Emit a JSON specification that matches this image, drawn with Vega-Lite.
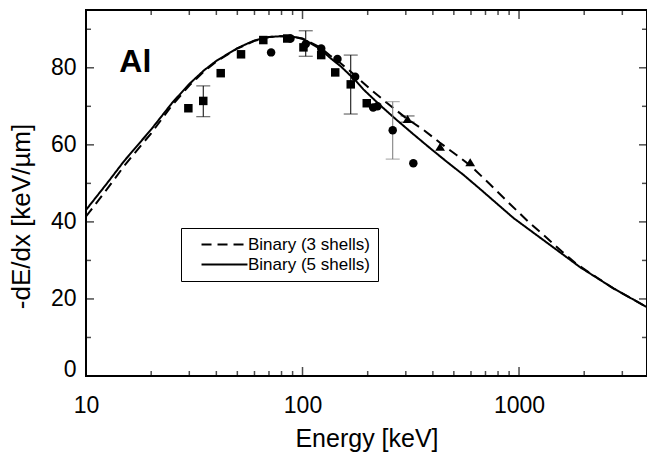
{
  "$schema": "https://vega.github.io/schema/vega-lite/v6.json",
  "width": 561,
  "height": 366,
  "autosize": {"type": "none"},
  "padding": {"left": 86, "top": 10, "right": 0, "bottom": 78},
  "config": {
    "font": "Liberation Sans",
    "view": {"stroke": "black", "strokeWidth": 2},
    "axis": {
      "domain": false,
      "grid": false,
      "labelColor": "black",
      "titleColor": "black",
      "labelFont": "Liberation Sans",
      "titleFont": "Liberation Sans",
      "labelFontSize": 23,
      "titleFontSize": 25,
      "titleFontWeight": "normal",
      "labelOverlap": false
    }
  },
  "datasets": {
    "curves": [
      {"E": 10, "v": 43.1, "s": "Binary (5 shells)"},
      {"E": 12.5, "v": 50.0, "s": "Binary (5 shells)"},
      {"E": 15, "v": 55.8, "s": "Binary (5 shells)"},
      {"E": 17.5, "v": 60.2, "s": "Binary (5 shells)"},
      {"E": 20, "v": 64.0, "s": "Binary (5 shells)"},
      {"E": 25, "v": 70.9, "s": "Binary (5 shells)"},
      {"E": 30, "v": 75.8, "s": "Binary (5 shells)"},
      {"E": 35, "v": 79.3, "s": "Binary (5 shells)"},
      {"E": 40, "v": 81.8, "s": "Binary (5 shells)"},
      {"E": 50, "v": 85.1, "s": "Binary (5 shells)"},
      {"E": 60, "v": 87.1, "s": "Binary (5 shells)"},
      {"E": 70, "v": 88.0, "s": "Binary (5 shells)"},
      {"E": 80, "v": 88.2, "s": "Binary (5 shells)"},
      {"E": 90, "v": 88.1, "s": "Binary (5 shells)"},
      {"E": 100, "v": 87.5, "s": "Binary (5 shells)"},
      {"E": 120, "v": 85.0, "s": "Binary (5 shells)"},
      {"E": 134, "v": 82.6, "s": "Binary (5 shells)"},
      {"E": 150, "v": 80.4, "s": "Binary (5 shells)"},
      {"E": 160, "v": 78.9, "s": "Binary (5 shells)"},
      {"E": 175, "v": 76.8, "s": "Binary (5 shells)"},
      {"E": 191, "v": 74.4, "s": "Binary (5 shells)"},
      {"E": 228, "v": 70.3, "s": "Binary (5 shells)"},
      {"E": 273, "v": 66.4, "s": "Binary (5 shells)"},
      {"E": 326, "v": 62.7, "s": "Binary (5 shells)"},
      {"E": 389, "v": 59.1, "s": "Binary (5 shells)"},
      {"E": 464, "v": 55.6, "s": "Binary (5 shells)"},
      {"E": 554, "v": 52.2, "s": "Binary (5 shells)"},
      {"E": 662, "v": 48.5, "s": "Binary (5 shells)"},
      {"E": 943, "v": 41.0, "s": "Binary (5 shells)"},
      {"E": 1346, "v": 34.6, "s": "Binary (5 shells)"},
      {"E": 1919, "v": 28.2, "s": "Binary (5 shells)"},
      {"E": 2737, "v": 22.7, "s": "Binary (5 shells)"},
      {"E": 3859, "v": 18.0, "s": "Binary (5 shells)"},
      {"E": 3900, "v": 17.9, "s": "Binary (5 shells)"},
      {"E": 10, "v": 41.4, "s": "Binary (3 shells)"},
      {"E": 12.5, "v": 48.5, "s": "Binary (3 shells)"},
      {"E": 15, "v": 54.5, "s": "Binary (3 shells)"},
      {"E": 17.5, "v": 59.1, "s": "Binary (3 shells)"},
      {"E": 20, "v": 63.0, "s": "Binary (3 shells)"},
      {"E": 25, "v": 70.3, "s": "Binary (3 shells)"},
      {"E": 30, "v": 75.4, "s": "Binary (3 shells)"},
      {"E": 35, "v": 79.0, "s": "Binary (3 shells)"},
      {"E": 40, "v": 81.6, "s": "Binary (3 shells)"},
      {"E": 50, "v": 85.0, "s": "Binary (3 shells)"},
      {"E": 60, "v": 87.0, "s": "Binary (3 shells)"},
      {"E": 70, "v": 88.0, "s": "Binary (3 shells)"},
      {"E": 80, "v": 88.2, "s": "Binary (3 shells)"},
      {"E": 90, "v": 88.1, "s": "Binary (3 shells)"},
      {"E": 100, "v": 87.6, "s": "Binary (3 shells)"},
      {"E": 120, "v": 85.4, "s": "Binary (3 shells)"},
      {"E": 134, "v": 83.2, "s": "Binary (3 shells)"},
      {"E": 150, "v": 81.2, "s": "Binary (3 shells)"},
      {"E": 175, "v": 78.0, "s": "Binary (3 shells)"},
      {"E": 205, "v": 74.5, "s": "Binary (3 shells)"},
      {"E": 249, "v": 70.6, "s": "Binary (3 shells)"},
      {"E": 300, "v": 67.0, "s": "Binary (3 shells)"},
      {"E": 362, "v": 63.9, "s": "Binary (3 shells)"},
      {"E": 430, "v": 60.6, "s": "Binary (3 shells)"},
      {"E": 516, "v": 57.3, "s": "Binary (3 shells)"},
      {"E": 600, "v": 54.5, "s": "Binary (3 shells)"},
      {"E": 736, "v": 49.7, "s": "Binary (3 shells)"},
      {"E": 910, "v": 44.6, "s": "Binary (3 shells)"},
      {"E": 1106, "v": 40.0, "s": "Binary (3 shells)"},
      {"E": 1322, "v": 36.2, "s": "Binary (3 shells)"},
      {"E": 1578, "v": 32.3, "s": "Binary (3 shells)"},
      {"E": 1852, "v": 29.0, "s": "Binary (3 shells)"},
      {"E": 2200, "v": 26.2, "s": "Binary (3 shells)"},
      {"E": 2737, "v": 22.7, "s": "Binary (3 shells)"},
      {"E": 3859, "v": 18.0, "s": "Binary (3 shells)"},
      {"E": 3900, "v": 17.9, "s": "Binary (3 shells)"}
    ],
    "points": [
      {"E": 29.7, "v": 69.5, "m": "square"},
      {"E": 34.8, "v": 71.4, "m": "square"},
      {"E": 41.9, "v": 78.6, "m": "square"},
      {"E": 52, "v": 83.5, "m": "square"},
      {"E": 65.9, "v": 87.2, "m": "square"},
      {"E": 85, "v": 87.6, "m": "square"},
      {"E": 101, "v": 85.3, "m": "square"},
      {"E": 122, "v": 83.3, "m": "square"},
      {"E": 141.6, "v": 78.8, "m": "square"},
      {"E": 167, "v": 75.7, "m": "square"},
      {"E": 198, "v": 70.8, "m": "square"},
      {"E": 71.6, "v": 84.0, "m": "circle"},
      {"E": 88, "v": 87.6, "m": "circle"},
      {"E": 103.5, "v": 86.2, "m": "circle"},
      {"E": 122, "v": 85.0, "m": "circle"},
      {"E": 145, "v": 82.3, "m": "circle"},
      {"E": 175, "v": 77.7, "m": "circle"},
      {"E": 212, "v": 69.7, "m": "circle"},
      {"E": 222, "v": 70.0, "m": "circle"},
      {"E": 261, "v": 63.8, "m": "circle"},
      {"E": 325, "v": 55.2, "m": "circle"},
      {"E": 305.6, "v": 66.7, "m": "triangle"},
      {"E": 432, "v": 59.5, "m": "triangle"},
      {"E": 595, "v": 55.5, "m": "triangle"}
    ],
    "errors": [
      {"E": 34.8, "lo": 67.3, "hi": 75.3, "g": "a"},
      {"E": 103.5, "lo": 83.0, "hi": 89.6, "g": "a"},
      {"E": 167, "lo": 68.0, "hi": 83.3, "g": "a"},
      {"E": 261, "lo": 56.3, "hi": 71.2, "g": "b"},
      {"E": 305.6, "lo": 65.9, "hi": 67.5, "g": "a"}
    ],
    "labels": [
      {"E": 14.26, "v": 79.0, "t": "Al"}
    ],
    "xticks": [
      {"E": 10, "k": "major"}, {"E": 20, "k": "minor"}, {"E": 30, "k": "minor"}, {"E": 40, "k": "minor"},
      {"E": 50, "k": "minor"}, {"E": 60, "k": "minor"}, {"E": 70, "k": "minor"}, {"E": 80, "k": "minor"},
      {"E": 90, "k": "minor"}, {"E": 100, "k": "major"}, {"E": 200, "k": "minor"}, {"E": 300, "k": "minor"},
      {"E": 400, "k": "minor"}, {"E": 500, "k": "minor"}, {"E": 600, "k": "minor"}, {"E": 700, "k": "minor"},
      {"E": 800, "k": "minor"}, {"E": 900, "k": "minor"}, {"E": 1000, "k": "major"}, {"E": 2000, "k": "minor"},
      {"E": 3000, "k": "minor"}
    ],
    "yticks": [
      {"v": 0, "k": "major"}, {"v": 10, "k": "minor"}, {"v": 20, "k": "major"}, {"v": 30, "k": "minor"},
      {"v": 40, "k": "major"}, {"v": 50, "k": "minor"}, {"v": 60, "k": "major"}, {"v": 70, "k": "minor"},
      {"v": 80, "k": "major"}, {"v": 90, "k": "minor"}
    ]
  },
  "resolve": {"axis": {"x": "independent", "y": "independent"}},
  "layer": [
    {
      "data": {"name": "curves"},
      "mark": {"type": "line", "color": "black", "strokeWidth": 2},
      "encoding": {
        "x": {
          "field": "E", "type": "quantitative",
          "scale": {"type": "log", "domain": [10, 3900], "nice": false},
          "axis": {
            "orient": "bottom",
            "values": [10, 100, 1000],
            "format": "d",
            "labelFlush": false,
            "ticks": false,
            "labelPadding": 18,
            "title": "Energy [keV]",
            "titleY": 70,
            "titleBaseline": "alphabetic"
          }
        },
        "y": {
          "field": "v", "type": "quantitative",
          "scale": {"domain": [0, 95], "nice": false, "zero": true},
          "axis": {
            "orient": "left",
            "values": [0, 20, 40, 60, 80],
            "ticks": false,
            "labelPadding": 10,
            "labelFlush": false,
            "labelBaseline": {"condition": {"test": "datum.value == 0", "value": "alphabetic"}, "value": "middle"},
            "title": "-dE/dx [keV/µm]",
            "titleFontSize": 26,
            "titleX": -57,
            "titleY": 206,
            "titleAngle": 270,
            "titleAlign": "center",
            "titleBaseline": "alphabetic"
          }
        },
        "strokeDash": {
          "field": "s", "type": "nominal",
          "scale": {"domain": ["Binary (3 shells)", "Binary (5 shells)"], "range": [[10, 6], [1, 0]]},
          "legend": {
            "orient": "none",
            "legendX": 95,
            "legendY": 218,
            "title": null,
            "strokeColor": "black",
            "padding": 8,
            "rowPadding": 2,
            "labelFontSize": 17,
            "labelFont": "Liberation Sans",
            "labelColor": "black",
            "symbolType": "M-4,0H4",
            "symbolSize": 132,
            "symbolStrokeWidth": 2,
            "symbolStrokeColor": "black",
            "symbolOffset": 27,
            "labelOffset": 15,
            "labelExpr": "datum.label + '    '"
          }
        },
        "detail": {"field": "s"}
      }
    },
    {
      "data": {"name": "xticks"},
      "transform": [{"filter": "datum.k == 'major'"}],
      "mark": {"type": "tick", "orient": "vertical", "thickness": 1.5, "size": 18, "color": "black", "clip": true},
      "encoding": {
        "x": {"field": "E", "type": "quantitative", "scale": {"type": "log", "domain": [10, 3900], "nice": false}, "axis": null},
        "y": {"datum": 0, "type": "quantitative", "scale": {"domain": [0, 95], "nice": false}, "axis": null}
      }
    },
    {
      "data": {"name": "xticks"},
      "transform": [{"filter": "datum.k == 'minor'"}],
      "mark": {"type": "tick", "orient": "vertical", "thickness": 1.5, "size": 10, "color": "black", "clip": true},
      "encoding": {
        "x": {"field": "E", "type": "quantitative", "scale": {"type": "log", "domain": [10, 3900], "nice": false}, "axis": null},
        "y": {"datum": 0, "type": "quantitative", "scale": {"domain": [0, 95], "nice": false}, "axis": null}
      }
    },
    {
      "data": {"name": "xticks"},
      "transform": [{"filter": "datum.k == 'major'"}],
      "mark": {"type": "tick", "orient": "vertical", "thickness": 1.5, "size": 18, "color": "black", "clip": true},
      "encoding": {
        "x": {"field": "E", "type": "quantitative", "scale": {"type": "log", "domain": [10, 3900], "nice": false}, "axis": null},
        "y": {"datum": 95, "type": "quantitative", "scale": {"domain": [0, 95], "nice": false}, "axis": null}
      }
    },
    {
      "data": {"name": "xticks"},
      "transform": [{"filter": "datum.k == 'minor'"}],
      "mark": {"type": "tick", "orient": "vertical", "thickness": 1.5, "size": 10, "color": "black", "clip": true},
      "encoding": {
        "x": {"field": "E", "type": "quantitative", "scale": {"type": "log", "domain": [10, 3900], "nice": false}, "axis": null},
        "y": {"datum": 95, "type": "quantitative", "scale": {"domain": [0, 95], "nice": false}, "axis": null}
      }
    },
    {
      "data": {"name": "yticks"},
      "transform": [{"filter": "datum.k == 'major'"}],
      "mark": {"type": "tick", "orient": "horizontal", "thickness": 1.5, "size": 16, "color": "black", "clip": true},
      "encoding": {
        "y": {"field": "v", "type": "quantitative", "scale": {"domain": [0, 95], "nice": false}, "axis": null},
        "x": {"datum": 10, "type": "quantitative", "scale": {"type": "log", "domain": [10, 3900], "nice": false}, "axis": null}
      }
    },
    {
      "data": {"name": "yticks"},
      "transform": [{"filter": "datum.k == 'minor'"}],
      "mark": {"type": "tick", "orient": "horizontal", "thickness": 1.5, "size": 10, "color": "black", "clip": true},
      "encoding": {
        "y": {"field": "v", "type": "quantitative", "scale": {"domain": [0, 95], "nice": false}, "axis": null},
        "x": {"datum": 10, "type": "quantitative", "scale": {"type": "log", "domain": [10, 3900], "nice": false}, "axis": null}
      }
    },
    {
      "data": {"name": "yticks"},
      "transform": [{"filter": "datum.k == 'major'"}],
      "mark": {"type": "tick", "orient": "horizontal", "thickness": 1.5, "size": 16, "color": "black", "clip": true},
      "encoding": {
        "y": {"field": "v", "type": "quantitative", "scale": {"domain": [0, 95], "nice": false}, "axis": null},
        "x": {"datum": 3900, "type": "quantitative", "scale": {"type": "log", "domain": [10, 3900], "nice": false}, "axis": null}
      }
    },
    {
      "data": {"name": "yticks"},
      "transform": [{"filter": "datum.k == 'minor'"}],
      "mark": {"type": "tick", "orient": "horizontal", "thickness": 1.5, "size": 10, "color": "black", "clip": true},
      "encoding": {
        "y": {"field": "v", "type": "quantitative", "scale": {"domain": [0, 95], "nice": false}, "axis": null},
        "x": {"datum": 3900, "type": "quantitative", "scale": {"type": "log", "domain": [10, 3900], "nice": false}, "axis": null}
      }
    },
    {
      "data": {"name": "errors"},
      "mark": {"type": "rule", "strokeWidth": 1},
      "encoding": {
        "x": {"field": "E", "type": "quantitative", "scale": {"type": "log", "domain": [10, 3900], "nice": false}, "axis": null},
        "y": {"field": "lo", "type": "quantitative", "scale": {"domain": [0, 95], "nice": false}, "axis": null},
        "y2": {"field": "hi"},
        "color": {"field": "g", "type": "nominal", "scale": {"domain": ["a", "b"], "range": ["black", "#777777"]}, "legend": null}
      }
    },
    {
      "data": {"name": "errors"},
      "mark": {"type": "tick", "orient": "horizontal", "size": 14, "thickness": 1},
      "encoding": {
        "x": {"field": "E", "type": "quantitative", "scale": {"type": "log", "domain": [10, 3900], "nice": false}, "axis": null},
        "y": {"field": "lo", "type": "quantitative", "scale": {"domain": [0, 95], "nice": false}, "axis": null},
        "color": {"field": "g", "type": "nominal", "scale": {"domain": ["a", "b"], "range": ["black", "#777777"]}, "legend": null}
      }
    },
    {
      "data": {"name": "errors"},
      "mark": {"type": "tick", "orient": "horizontal", "size": 14, "thickness": 1},
      "encoding": {
        "x": {"field": "E", "type": "quantitative", "scale": {"type": "log", "domain": [10, 3900], "nice": false}, "axis": null},
        "y": {"field": "hi", "type": "quantitative", "scale": {"domain": [0, 95], "nice": false}, "axis": null},
        "color": {"field": "g", "type": "nominal", "scale": {"domain": ["a", "b"], "range": ["black", "#777777"]}, "legend": null}
      }
    },
    {
      "data": {"name": "points"},
      "mark": {"type": "point", "filled": true, "color": "black", "opacity": 1, "size": 72},
      "encoding": {
        "x": {"field": "E", "type": "quantitative", "scale": {"type": "log", "domain": [10, 3900], "nice": false}, "axis": null},
        "y": {"field": "v", "type": "quantitative", "scale": {"domain": [0, 95], "nice": false}, "axis": null},
        "shape": {
          "field": "m", "type": "nominal",
          "scale": {"domain": ["square", "circle", "triangle"], "range": ["square", "circle", "M0,-0.95L1.15,0.95L-1.15,0.95Z"]},
          "legend": null
        }
      }
    },
    {
      "data": {"name": "labels"},
      "mark": {"type": "text", "align": "left", "baseline": "alphabetic", "fontSize": 32, "fontWeight": "bold", "font": "Liberation Sans", "color": "black"},
      "encoding": {
        "x": {"field": "E", "type": "quantitative", "scale": {"type": "log", "domain": [10, 3900], "nice": false}, "axis": null},
        "y": {"field": "v", "type": "quantitative", "scale": {"domain": [0, 95], "nice": false}, "axis": null},
        "text": {"field": "t"}
      }
    }
  ]
}
